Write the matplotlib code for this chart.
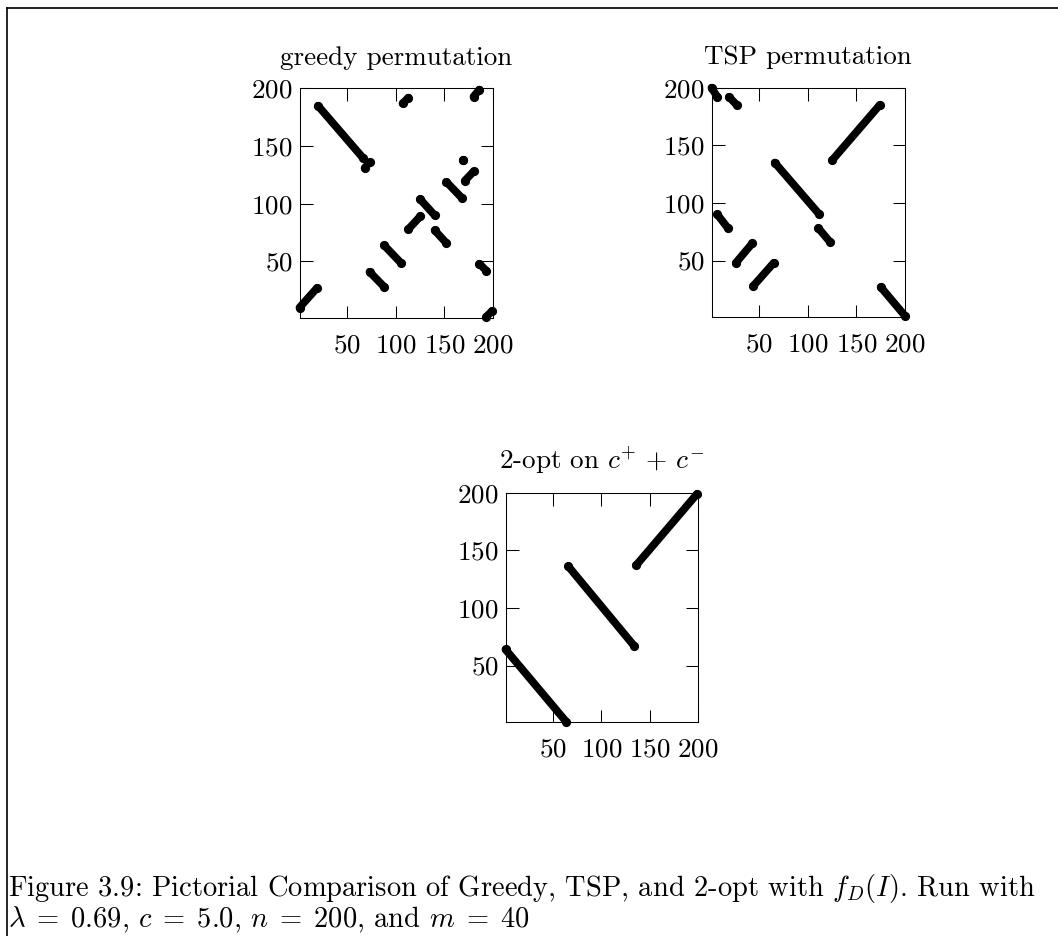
import matplotlib
matplotlib.use("Agg")
import matplotlib.pyplot as plt
from matplotlib.lines import Line2D

plt.rcParams['font.family'] = ['cmr10', 'DejaVu Serif']
plt.rcParams['mathtext.fontset'] = 'cm'
plt.rcParams['axes.unicode_minus'] = False
plt.rcParams['axes.formatter.use_mathtext'] = True

# permutation data, read as runs of consecutive points (start -> end)
greedy_x = [(1, 19), (20, 66), (68, 73), (107, 113), (180, 186), (73, 88), (88, 105),
            (113, 125), (125, 140), (140, 152), (152, 168), (169, 169), (171, 180),
            (186, 193), (193, 199)]
greedy_y = [(10, 27), (185, 140), (131, 136), (187, 192), (193, 199), (41, 28), (64, 49),
            (78, 89), (104, 90), (77, 66), (119, 105), (138, 138), (120, 128),
            (48, 42), (2, 7)]

tsp_x = [(1, 7), (19, 27), (125, 174), (66, 112), (7, 18), (111, 123), (26, 43),
         (44, 65), (175, 200)]
tsp_y = [(200, 192), (192, 185), (137, 185), (135, 90), (90, 78), (78, 66), (48, 65),
         (28, 48), (27, 2)]

opt_x = [(1, 64), (66, 134), (136, 199)]
opt_y = [(64, 1), (136, 67), (137, 199)]

ticks = [50, 100, 150, 200]
titles = ['greedy permutation', 'TSP permutation', r'2-opt on $c^{+} \,+\, c^{-}$']
caption1 = r'Figure 3.9: Pictorial Comparison of Greedy, TSP, and 2-opt with $f_D(I)$. Run with'
caption2 = r'$\lambda \;=\; 0.69$, $c \;=\; 5.0$, $n \;=\; 200$, and $m \;=\; 40$'

fig = plt.figure(figsize=(10.58, 9.36), dpi=100)

boxes = [[0.2831, 0.6603, 0.1829, 0.2452],
         [0.6725, 0.6613, 0.1829, 0.2450],
         [0.4778, 0.2286, 0.1820, 0.2450]]
data = [(greedy_x, greedy_y), (tsp_x, tsp_y), (opt_x, opt_y)]

for box, (xs, ys), title in zip(boxes, data, titles):
    ax = fig.add_axes(box)
    for sx, sy in zip(xs, ys):
        ax.plot(sx, sy, '-o', color='black', lw=5.6, ms=5.6, solid_capstyle='round',
                clip_on=False)
    ax.set_xlim(1, 200)
    ax.set_ylim(1, 200)
    ax.set_xticks(ticks)
    ax.set_yticks(ticks)
    ax.tick_params(direction='in', length=9, width=0.75, top=True, right=True,
                   labelsize=19.5)
    ax.tick_params(axis='x', pad=11.5)
    ax.tick_params(axis='y', pad=5)
    for s in ax.spines.values():
        s.set_linewidth(0.75)
    ax.set_title(title, fontsize=19.5, pad=17)

fig.text(8 / 1058, 0.0430, caption1, fontsize=20.5, ha='left', va='baseline')
fig.text(8 / 1058, 0.0088, caption2, fontsize=20.5, ha='left', va='baseline')

# page frame
fig.add_artist(Line2D([6.5 / 1058, 6.5 / 1058], [0, 1 - 7.5 / 936], color='black', lw=1.2,
                      transform=fig.transFigure))
fig.add_artist(Line2D([6.5 / 1058, 1], [1 - 7.5 / 936, 1 - 7.5 / 936], color='black', lw=1.2,
                      transform=fig.transFigure))

fig.savefig('out.png', dpi=100)
